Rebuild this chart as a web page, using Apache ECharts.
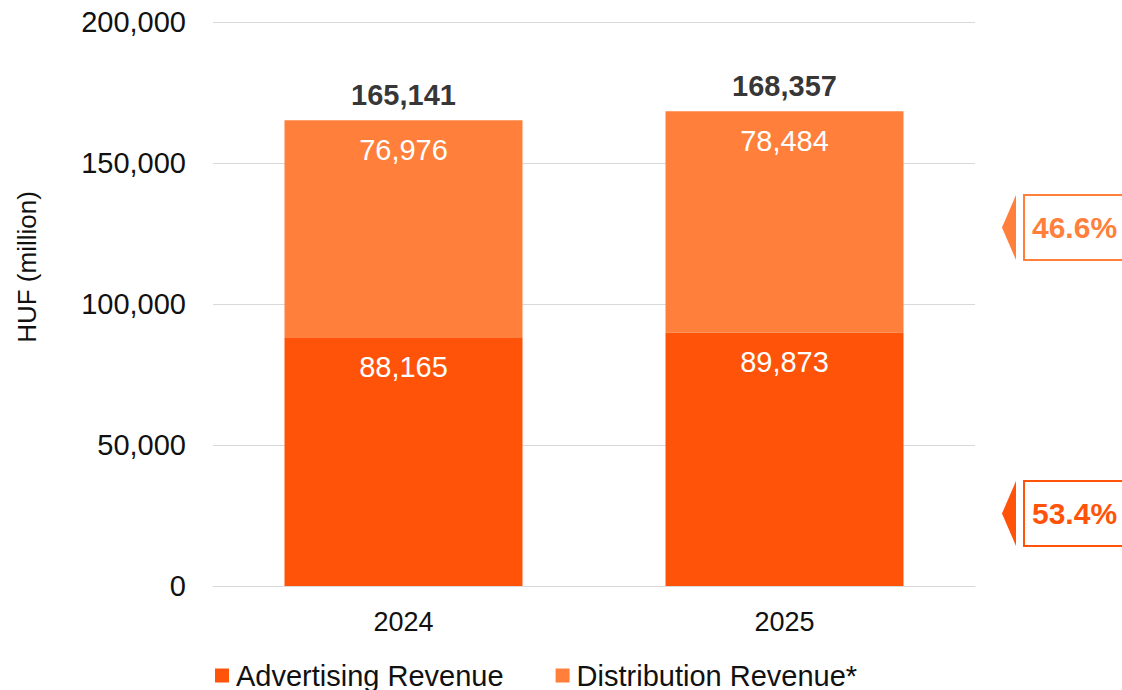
<!DOCTYPE html>
<html>
<head>
<meta charset="utf-8">
<script src="https://cdn.jsdelivr.net/npm/echarts@6/dist/echarts.min.js"></script>
<style>
  html, body { margin: 0; padding: 0; background: #fff; }
  #chart { width: 1122px; height: 690px; }
</style>
</head>
<body>
<div id="chart"></div>
<script>
// Revenue split by year (HUF million)
const years = ['2024', '2025'];
const advertising = [88165, 89873];
const distribution = [76976, 78484];
const seriesNames = ['Advertising Revenue', 'Distribution Revenue*'];
const yTicks = [0, 50000, 100000, 150000, 200000];
const yAxisTitle = 'HUF (million)';

const totals = years.map((_, i) => advertising[i] + distribution[i]);
const fmt = v => v.toLocaleString('en-US');
const pct = v => (v * 100).toFixed(1) + '%';

const DARK = '#FF5309';
const LIGHT = '#FF7F3B';
const FONT = '"Liberation Sans", Arial, sans-serif';

// Share of each stream in the latest year
const last = years.length - 1;
const shareDist = pct(distribution[last] / totals[last]);
const shareAdv = pct(advertising[last] / totals[last]);

function callout(top, text, color) {
  const h = 65;
  return [
    {
      type: 'polygon',
      shape: { points: [[1016, top], [1002, top + h / 2], [1016, top + h]] },
      style: { fill: color }
    },
    {
      type: 'rect',
      shape: { x: 1024, y: top, width: 120, height: h },
      style: { fill: '#fff', stroke: color, lineWidth: 2 }
    },
    {
      type: 'text',
      x: 1032, y: top + h / 2,
      style: {
        text: text, fill: color, font: 'bold 30px ' + FONT,
        textVerticalAlign: 'middle', verticalAlign: 'middle'
      }
    }
  ];
}

const chart = echarts.init(document.getElementById('chart'), null, { renderer: 'svg' });
chart.setOption({
  animation: false,
  textStyle: { fontFamily: FONT },
  grid: { left: 213, right: 147, top: 22, bottom: 104, outerBoundsMode: 'none', containLabel: false },
  legend: {
    data: seriesNames,
    left: 210,
    top: 656,
    icon: 'rect',
    itemWidth: 14,
    itemHeight: 14,
    itemGap: 52,
    textStyle: { fontSize: 29, color: '#111', fontFamily: FONT, padding: [0, 0, 0, 2] }
  },
  xAxis: {
    type: 'category',
    data: years,
    axisLine: { show: true, lineStyle: { color: '#d9d9d9', width: 1 } },
    axisTick: { show: false },
    axisLabel: { fontSize: 27, color: '#111', margin: 22 }
  },
  yAxis: {
    type: 'value',
    min: yTicks[0],
    max: yTicks[yTicks.length - 1],
    interval: yTicks[1] - yTicks[0],
    axisLine: { show: false },
    axisTick: { show: false },
    axisLabel: { fontSize: 29, color: '#111', margin: 27, formatter: v => fmt(v) },
    splitLine: { lineStyle: { color: '#d9d9d9', width: 1 } }
  },
  series: [
    {
      name: seriesNames[0],
      type: 'bar',
      stack: 'rev',
      barWidth: 238,
      data: advertising,
      itemStyle: { color: DARK },
      label: {
        show: true, position: 'insideTop', distance: 15,
        color: '#fff', fontSize: 29, formatter: p => fmt(p.value)
      }
    },
    {
      name: seriesNames[1],
      type: 'bar',
      stack: 'rev',
      barWidth: 238,
      data: distribution,
      itemStyle: { color: LIGHT },
      label: {
        show: true, position: 'insideTop', distance: 15,
        color: '#fff', fontSize: 29, formatter: p => fmt(p.value)
      }
    },
    {
      name: 'Total',
      type: 'scatter',
      data: totals,
      symbolSize: 0,
      silent: true,
      label: {
        show: true, position: 'top', distance: 11,
        color: '#000', fontSize: 29, fontWeight: 'bold',
        formatter: p => fmt(p.value)
      }
    }
  ],
  graphic: [
    {
      type: 'text',
      x: 27, y: 267,
      rotation: Math.PI / 2,
      style: {
        text: yAxisTitle, fill: '#111', font: '26px ' + FONT,
        align: 'center', verticalAlign: 'middle'
      }
    },
    ...callout(195, shareDist, LIGHT),
    ...callout(481, shareAdv, DARK)
  ]
});
</script>
</body>
</html>
